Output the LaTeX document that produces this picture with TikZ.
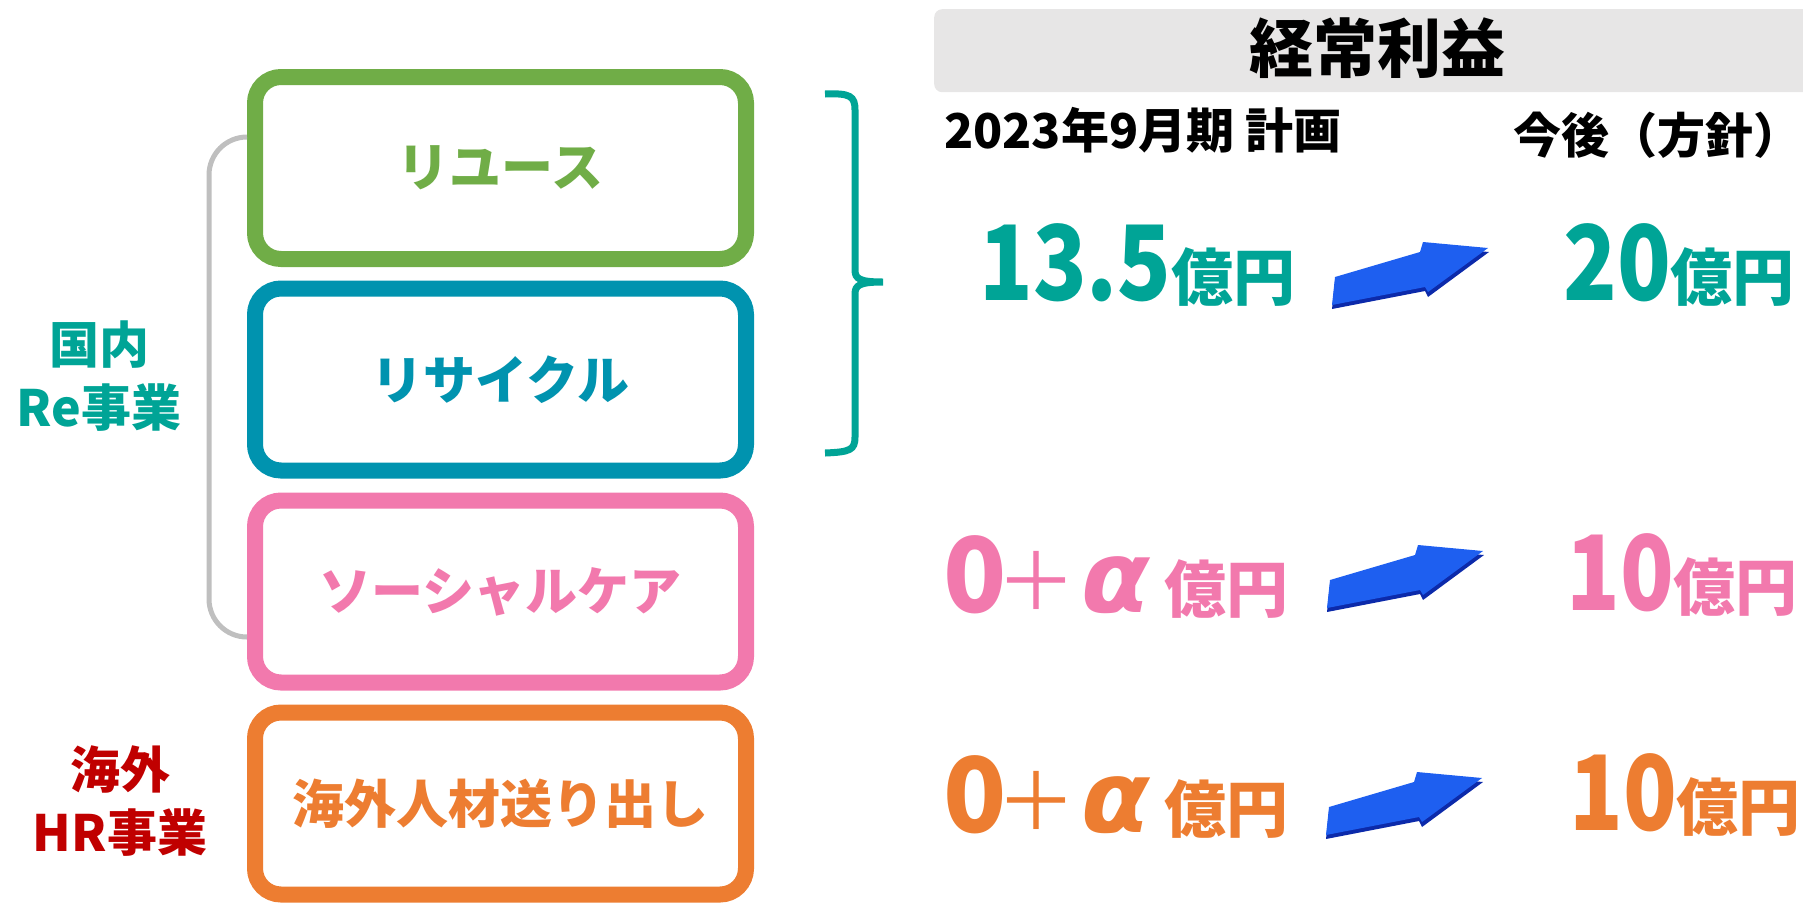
\documentclass[tikz,border=0pt]{standalone}
\usepackage{graphicx}
\usepackage{fontspec}
\setmainfont{Noto Sans CJK JP}
\newfontfamily\grk{DejaVu Sans}
\definecolor{cteal}{RGB}{0,164,150}
\definecolor{cgreen}{RGB}{112,173,71}
\definecolor{cblue}{RGB}{0,147,175}
\definecolor{cpink}{RGB}{242,121,173}
\definecolor{corange}{RGB}{237,125,49}
\definecolor{cred}{RGB}{192,0,0}
\definecolor{cgray}{RGB}{191,191,191}
\definecolor{chdr}{RGB}{231,230,230}
\definecolor{ablue}{RGB}{30,95,240}
\definecolor{adark}{RGB}{12,42,170}
\tikzset{
  bizbox/.style={draw=#1, line width=16pt, rounded corners=26pt, fill=white,
    minimum width=491pt, minimum height=182pt, text=#1, inner sep=0pt,
    font=\fontsize{52}{60}\selectfont\bfseries},
  glink/.style={draw=cgray, line width=5pt, rounded corners=38pt},
  num/.style={anchor=base west, inner sep=0pt, text=#1},
  plussign/.style={text=#1, inner ysep=0pt, inner xsep=-8pt, font=\fontsize{80}{80}\selectfont},
  alphasign/.style={text=#1, inner sep=0pt, anchor=base, font=\fontsize{100}{100}\selectfont\grk\bfseries\itshape},
  sidelabel/.style={align=center, inner sep=0pt, text=#1,
    font=\fontsize{50}{63}\selectfont\bfseries},
  headtext/.style={anchor=west, inner sep=0pt, font=\fontsize{48}{48}\selectfont\bfseries},
  blarrow/.pic={
    \fill[adark] (0,4) -- (3,-24) -- (88,-49) -- (91,-59) -- (157,-53) -- (96,-8) -- (93,-14) -- cycle;
    \fill[ablue] (0,0) -- (3,-28) -- (88,-53) -- (91,-63) -- (156,-57) -- (96,-13) -- (93,-18) -- cycle;
  }
}
\newcommand{\bignum}[1]{{\fontsize{104}{104}\selectfont\bfseries\scalebox{0.85}[1]{#1}}}
\newcommand{\okuen}{\fontsize{62}{62}\selectfont\bfseries}
\begin{document}
\begin{tikzpicture}[x=1pt,y=-1pt]
\useasboundingbox (0,0) rectangle (1803,903);
% header
\node[fill=chdr, rounded corners=8pt, minimum width=890pt, minimum height=83pt,
  anchor=north west, inner sep=0pt] (hdr) at (934,9) {};
\node[inner sep=0pt, font=\fontsize{64}{64}\selectfont\bfseries] (title) at (1377,48) {経常利益};
\node[headtext] (plan) at (944,130) {2023年9月期 計画};
\node[headtext] (future) at (1513,135) {今後（方針）};
% boxes
\node[bizbox=cgreen] (reuse) at (500.5,168) {リユース};
\node[bizbox=cblue] (recycle) at (500.5,379.5) {リサイクル};
\node[bizbox=cpink] (social) at (500.5,591.5) {ソーシャルケア};
\node[bizbox=corange] (hr) at (500.5,803.5) {海外人材送り出し};
% gray grouping line
\draw[glink] ([yshift=31pt]reuse.west) -- ([yshift=31pt,xshift=-38pt]reuse.west)
  -- ([yshift=-45.5pt,xshift=-38pt]social.west) -- ([yshift=-45.5pt]social.west);
% side labels
\node[sidelabel=cteal] (dom) at (99,376.5) {国内\\Re事業};
\node[sidelabel=cred] (ovs) at (120,801.5) {海外\\HR事業};
% brace
\draw[cteal, line width=7pt] (825,94) .. controls (850,93) and (855,96) .. (855,110)
  -- (855,270) .. controls (855,279) and (860,282) .. (883,282)
  .. controls (860,282) and (855,285) .. (855,294)
  -- (855,437) .. controls (855,450) and (850,452) .. (825,453);
% row 1
\node[num=cteal] (v1a) at (979,300) {\bignum{13.5}\okuen 億円};
\pic at (1332,305) {blarrow};
\node[num=cteal] (v1b) at (1563,300) {\bignum{20}\okuen 億円};
% row 2
\node[num=cpink] (z2) at (943,612) {\fontsize{104}{104}\selectfont\bfseries 0};
\node[plussign=cpink] (p2) at (1036,581) {＋};
\node[alphasign=cpink] (a2) at (1116,612) {α};
\node[num=cpink] (o2) at (1164,612) {\okuen 億円};
\pic at (1327,608) {blarrow};
\node[num=cpink] (v2b) at (1566,610) {\bignum{10}\okuen 億円};
% row 3
\node[num=corange] (z3) at (943,832) {\fontsize{104}{104}\selectfont\bfseries 0};
\node[plussign=corange] (p3) at (1036,801) {＋};
\node[alphasign=corange] (a3) at (1116,832) {α};
\node[num=corange] (o3) at (1164,832) {\okuen 億円};
\pic at (1326,835) {blarrow};
\node[num=corange] (v3b) at (1569,830) {\bignum{10}\okuen 億円};
\end{tikzpicture}
\end{document}
